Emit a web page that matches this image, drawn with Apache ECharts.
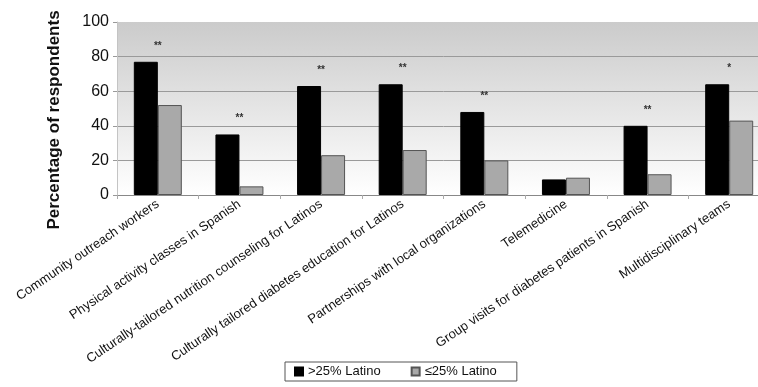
<!DOCTYPE html>
<html>
<head>
<meta charset="utf-8">
<script src="https://cdn.jsdelivr.net/npm/echarts@6/dist/echarts.min.js"></script>
<style>
  html, body { margin: 0; padding: 0; background: #fff; overflow: hidden; }
  #chart { width: 774px; height: 387px; }
</style>
</head>
<body>
<div id="chart"></div>
<script>
// Diabetes-care strategies offered, by share of Latino patients
const categories = [
  'Community outreach workers',
  'Physical activity classes in Spanish',
  'Culturally-tailored nutrition counseling for Latinos',
  'Culturally tailored diabetes education for Latinos',
  'Partnerships with local organizations',
  'Telemedicine',
  'Group visits for diabetes patients in Spanish',
  'Multidisciplinary teams'
];
const highLatino = [77, 35, 63, 64, 48, 9, 40, 64];
const lowLatino = [52, 5, 23, 26, 20, 10, 12, 43];
const significance = ['**', '**', '**', '**', '**', '', '**', '*'];
const yTicks = [0, 20, 40, 60, 80, 100];
const seriesNames = ['>25% Latino', '\u226425% Latino'];

const FONT = 'Liberation Sans, Arial, sans-serif';
const chart = echarts.init(document.getElementById('chart'), null, { renderer: 'canvas' });

// grid lines at every tick except the top edge of the plot
const gridLineColors = yTicks.map((t, i) => i === yTicks.length - 1 ? 'rgba(0,0,0,0)' : '#9a9a9a');

chart.setOption({
  animation: false,
  backgroundColor: '#ffffff',
  textStyle: { fontFamily: FONT },
  grid: {
    left: 117, top: 22, width: 653, height: 173,
    show: true, borderWidth: 0,
    backgroundColor: {
      type: 'linear', x: 0, y: 0, x2: 0, y2: 1,
      colorStops: [
        { offset: 0, color: '#cbcbcb' },
        { offset: 1, color: '#ffffff' }
      ]
    }
  },
  legend: {
    left: 285, top: 362,
    data: seriesNames,
    icon: 'rect', itemWidth: 8, itemHeight: 8, itemGap: 30,
    borderColor: '#555', borderWidth: 1, backgroundColor: '#fff',
    padding: [3, 20, 3, 9],
    textStyle: { fontSize: 13, color: '#111', fontFamily: FONT }
  },
  graphic: [{
    type: 'text', x: 54, y: 120, rotation: Math.PI / 2,
    style: {
      text: 'Percentage of respondents',
      fontSize: 17, fontWeight: 'bold', fill: '#111',
      fontFamily: FONT,
      align: 'center', verticalAlign: 'middle'
    }
  }],
  xAxis: {
    type: 'category', data: categories,
    axisLine: { lineStyle: { color: '#888' } },
    axisTick: { show: true, length: 4, lineStyle: { color: '#aaa' } },
    axisLabel: {
      rotate: 34, interval: 0, margin: 8,
      fontSize: 13, color: '#111', fontFamily: FONT
    }
  },
  yAxis: {
    type: 'value', min: yTicks[0], max: yTicks[yTicks.length - 1], interval: 20,
    axisLine: { show: true, lineStyle: { color: '#c4c4c4' } },
    axisTick: { show: true, length: 4, lineStyle: { color: '#999' } },
    axisLabel: { fontSize: 16, color: '#111', margin: 8, fontFamily: FONT },
    splitLine: { lineStyle: { color: gridLineColors, width: 1 } }
  },
  series: [
    {
      name: seriesNames[0], type: 'bar', data: highLatino,
      barWidth: 24, barGap: '0%',
      itemStyle: { color: '#000', borderColor: '#000', borderWidth: 1 },
      label: {
        show: true, position: 'top', distance: 11, offset: [12, 0],
        formatter: p => significance[p.dataIndex],
        fontSize: 10, fontWeight: 'bold', color: '#333'
      }
    },
    {
      name: seriesNames[1], type: 'bar', data: lowLatino,
      barWidth: 24,
      itemStyle: { color: '#a9a9a9', borderColor: '#555', borderWidth: 1 }
    }
  ]
});
</script>
</body>
</html>
